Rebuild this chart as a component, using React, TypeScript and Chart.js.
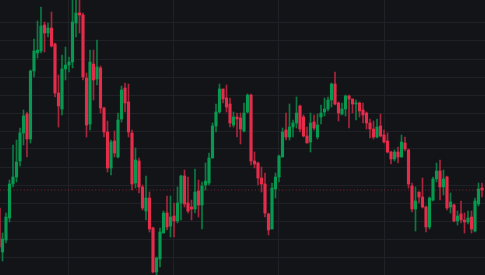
import React, { useEffect, useRef } from 'react';
import { Chart, registerables } from 'chart.js';

Chart.register(...registerables);

// OHLC values (one candle per index, left to right)
const opens = [
  67, 23, 35, 57, 91, 98, 114, 142, 161, 136,
  204, 222, 224, 250, 242, 247, 231, 182, 166, 206,
  210, 213, 252, 262, 260, 197, 151, 211, 196, 207,
  167, 143, 107, 134, 118, 156, 187, 173, 142, 92,
  114, 88, 64, 77, 47, 3, 16, 42, 62, 49,
  59, 54, 72, 99, 72, 68, 66, 84, 70, 90,
  92, 117, 149, 163, 186, 177, 171, 150, 158, 157,
  144, 163, 180, 114, 112, 97, 91, 61, 46, 86,
  98, 118, 145, 138, 148, 152, 169, 158, 139, 133,
  153, 138, 158, 163, 166, 175, 191, 172, 161, 166,
  179, 176, 171, 172, 165, 162, 152, 146, 138, 149,
  140, 134, 123, 116, 123, 118, 132, 125, 89, 66,
  83, 78, 68, 48, 75, 96, 104, 88, 98, 68,
  70, 54, 61, 55, 53, 58, 44, 71, 87,
];
const closes = [
  28, 36, 58, 91, 98, 113, 142, 159, 136, 204,
  224, 225, 249, 242, 247, 229, 182, 169, 206, 210,
  213, 253, 262, 260, 198, 150, 213, 195, 208, 167,
  143, 107, 133, 122, 155, 185, 172, 143, 91, 115,
  88, 67, 77, 46, 3, 17, 43, 62, 48, 58,
  54, 72, 99, 71, 64, 66, 83, 70, 89, 94,
  117, 149, 163, 186, 176, 168, 152, 158, 156, 146,
  162, 180, 114, 111, 97, 91, 62, 45, 87, 98,
  119, 143, 138, 148, 152, 162, 146, 139, 132, 152,
  147, 150, 162, 166, 175, 191, 171, 162, 166, 179,
  176, 171, 172, 164, 160, 152, 146, 138, 148, 139,
  133, 123, 116, 123, 118, 133, 126, 91, 66, 74,
  78, 68, 48, 77, 96, 104, 88, 96, 67, 73,
  54, 59, 55, 53, 57, 46, 74, 86, 85,
];
const highs = [
  70, 42, 62, 95, 130, 135, 147, 165, 163, 205,
  236, 254, 268, 253, 252, 263, 232, 200, 220, 228,
  218, 278, 280, 276, 262, 202, 225, 225, 235, 209,
  168, 154, 135, 144, 162, 189, 192, 191, 145, 127,
  117, 90, 99, 83, 48, 18, 47, 64, 79, 79,
  72, 88, 100, 105, 98, 75, 106, 95, 93, 112,
  122, 152, 171, 191, 186, 190, 177, 163, 162, 162,
  172, 181, 181, 123, 113, 108, 102, 62, 92, 102,
  120, 147, 162, 171, 155, 178, 170, 160, 148, 162,
  160, 161, 170, 177, 178, 192, 203, 173, 172, 180,
  180, 176, 175, 173, 172, 163, 156, 154, 156, 161,
  145, 142, 124, 125, 128, 140, 138, 126, 92, 88,
  83, 97, 69, 78, 98, 112, 115, 105, 99, 82,
  71, 64, 74, 62, 64, 64, 77, 92, 92,
];
const lows = [
  25, 14, 32, 53, 88, 93, 109, 130, 118, 132,
  198, 217, 222, 223, 238, 228, 178, 148, 160, 195,
  203, 207, 238, 242, 195, 138, 145, 175, 190, 162,
  138, 103, 100, 118, 117, 153, 163, 138, 85, 87,
  82, 65, 55, 43, 2, 0, 8, 42, 45, 38,
  38, 52, 55, 68, 62, 55, 62, 58, 46, 85,
  90, 117, 143, 162, 172, 163, 148, 148, 138, 131,
  143, 162, 110, 107, 90, 83, 58, 40, 46, 77,
  93, 118, 135, 135, 138, 147, 143, 138, 132, 123,
  145, 136, 151, 159, 164, 168, 170, 154, 160, 159,
  147, 162, 155, 158, 152, 146, 137, 136, 137, 138,
  132, 122, 111, 114, 112, 118, 124, 87, 63, 44,
  72, 67, 43, 46, 74, 93, 75, 80, 65, 62,
  53, 50, 52, 42, 51, 42, 43, 69, 78,
];

// vertical grid lines (candle index) and price axis range
const xGridAt = [20, 50, 80, 110];
const X_MIN = 0.286;
const X_MAX = 138.857;
const Y_MIN = 0;
const Y_MAX = 275;
const Y_STEP = 18;

const BG = '#131418';
const GRID = '#1f2126';
const UP = '#089950';
const DOWN = '#e52d4b';
const UP_WICK = '#0a7a42';
const DOWN_WICK = '#a8253b';

export default function App() {
  const ref = useRef<HTMLCanvasElement>(null);

  useEffect(() => {
    document.body.style.margin = '0';
    document.body.style.background = BG;
    const canvas = ref.current;
    if (!canvas) return;

    const up = opens.map((o, i) => closes[i] >= o);
    const wicks = opens.map((_, i) => ({ x: i, y: [lows[i], highs[i]] }));
    const bodies = opens.map((o, i) => ({
      x: i,
      y: [Math.min(o, closes[i]), Math.max(o, closes[i])],
    }));
    const last = closes[closes.length - 1];

    const chart = new Chart(canvas, {
      type: 'bar',
      data: {
        datasets: [
          {
            type: 'bar',
            data: bodies as any,
            backgroundColor: up.map((u) => (u ? UP : DOWN)),
            borderWidth: 0,
            barThickness: 2.5,
            minBarLength: 1,
            grouped: false,
            order: 0,
          } as any,
          {
            type: 'bar',
            data: wicks as any,
            backgroundColor: up.map((u) => (u ? UP_WICK : DOWN_WICK)),
            borderWidth: 0,
            barThickness: 1,
            grouped: false,
            order: 1,
          } as any,
          {
            type: 'line',
            data: [
              { x: X_MIN, y: last },
              { x: X_MAX, y: last },
            ],
            borderColor: 'rgba(229,45,75,0.55)',
            borderWidth: 1,
            borderDash: [1, 2.4],
            pointRadius: 0,
            order: 2,
          } as any,
        ],
      },
      options: {
        responsive: false,
        animation: false,
        events: [],
        layout: { padding: 0 },
        plugins: {
          legend: { display: false },
          tooltip: { enabled: false },
        },
        scales: {
          x: {
            type: 'linear',
            min: X_MIN,
            max: X_MAX,
            offset: false,
            ticks: { display: false },
            border: { display: false },
            grid: { color: GRID, drawTicks: false, offset: false, lineWidth: 1 },
            afterBuildTicks: (s: any) => {
              s.ticks = xGridAt.map((v) => ({ value: v }));
            },
          },
          y: {
            type: 'linear',
            min: Y_MIN,
            max: Y_MAX,
            ticks: { display: false, stepSize: Y_STEP },
            border: { display: false },
            grid: { color: GRID, drawTicks: false, lineWidth: 1 },
            afterBuildTicks: (s: any) => {
              s.ticks = s.ticks.filter((t: any) => t.value > Y_MIN && t.value < Y_MAX);
            },
          },
        },
      } as any,
    });

    return () => chart.destroy();
  }, []);

  return (
    <div style={{ position: 'fixed', left: 0, top: 0, width: 485, height: 275, background: BG }}>
      <canvas ref={ref} width={485} height={275} style={{ display: 'block' }} />
    </div>
  );
}
